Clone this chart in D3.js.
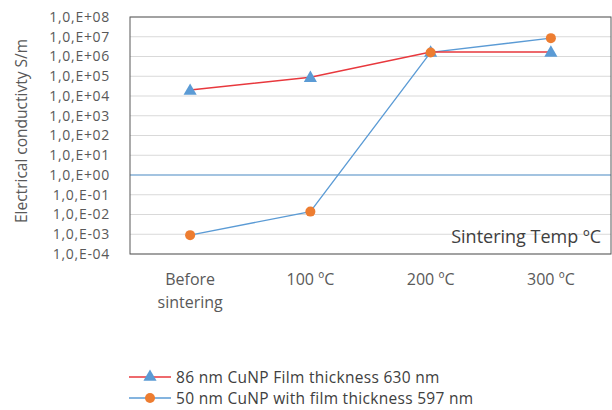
<!DOCTYPE html>
<html>
<head>
<script src="https://cdnjs.cloudflare.com/ajax/libs/d3/7.8.5/d3.min.js"></script>
<style>
  body { margin: 0; background: #fff; }
  text { font-family: "Open Sans", "Liberation Sans", sans-serif; fill: #595959; }
</style>
</head>
<body>
<svg width="612" height="410"></svg>
<script>
// chart data
var categories = ["Before\nsintering", "100 ºC", "200 ºC", "300 ºC"];
var series86 = [2.0e4, 9.0e4, 1.7e6, 1.7e6];
var series50 = [9.0e-4, 1.4e-2, 1.6e6, 8.5e6];
var yTicks = [1e-4, 1e-3, 1e-2, 1e-1, 1e0, 1e1, 1e2, 1e3, 1e4, 1e5, 1e6, 1e7, 1e8];
var legendLabels = ["86 nm CuNP Film thickness 630 nm", "50 nm CuNP with film thickness 597 nm"];

var svg = d3.select("svg");
var plotLeft = 130, plotRight = 611, plotTop = 17, plotBottom = 254;

var x = d3.scaleBand().domain(categories).range([plotLeft, plotRight]);
var y = d3.scaleLog().domain([1e-4, 1e8]).range([plotBottom, plotTop]);

function fmt(v) {
    var e = Math.round(Math.log10(v));
    var s = Math.abs(e) < 10 ? "0" + Math.abs(e) : "" + Math.abs(e);
    return "1,0,E" + (e < 0 ? "-" : "+") + s;
}

// gridlines
svg.append("g")
    .selectAll("line")
    .data(yTicks)
    .enter()
    .append("line")
    .attr("x1", plotLeft).attr("x2", plotRight)
    .attr("y1", function(d) { return y(d); })
    .attr("y2", function(d) { return y(d); })
    .attr("stroke", "#d9d9d9")
    .attr("stroke-width", 1);

// horizontal axis crossing at 1
svg.append("line")
    .attr("x1", plotLeft).attr("x2", plotRight)
    .attr("y1", y(1)).attr("y2", y(1))
    .attr("stroke", "#5b9bd5").attr("stroke-width", 1);

// plot frame
svg.append("rect")
    .attr("x", plotLeft).attr("y", plotTop)
    .attr("width", plotRight - plotLeft).attr("height", plotBottom - plotTop)
    .attr("fill", "none").attr("stroke", "#595959").attr("stroke-width", 1);

// y axis labels
var yAxis = svg.append("g")
    .attr("transform", "translate(" + (plotLeft - 20) + ",0)")
    .call(d3.axisLeft(y).tickValues(yTicks).tickFormat(fmt).tickSize(0));
yAxis.select(".domain").remove();
yAxis.selectAll("text").attr("x", 0).attr("font-size", 14).style("fill", "#595959")
    .attr("font-family", "Open Sans").attr("letter-spacing", 0.7);

// x axis labels
var xl = svg.append("g")
    .selectAll("text")
    .data(categories)
    .enter()
    .append("text")
    .attr("text-anchor", "middle")
    .attr("font-size", 16)
    .attr("x", function(d) { return x(d) + x.bandwidth() / 2; })
    .attr("y", 285);
xl.selectAll("tspan")
    .data(function(d) { return d.split("\n"); })
    .enter()
    .append("tspan")
    .attr("x", function() { var p = d3.select(this.parentNode).datum(); return x(p) + x.bandwidth() / 2; })
    .attr("dy", function(d, i) { return i ? 23 : 0; })
    .text(function(d) { return d; });

// y title
svg.append("text")
    .attr("transform", "translate(27,131) rotate(-90)")
    .attr("text-anchor", "middle")
    .attr("font-size", 15.5)
    .text("Electrical conductivty S/m");

// x title inside the plot
svg.append("text")
    .attr("x", 601).attr("y", 243)
    .attr("text-anchor", "end")
    .attr("font-size", 18)
    .style("fill", "#404040")
    .text("Sintering Temp ºC");

var cx = function(d, i) { return x(categories[i]) + x.bandwidth() / 2; };
var line = d3.line().x(function(d, i) { return cx(d, i); }).y(function(d) { return y(d); });
var tri = d3.symbol().type(d3.symbolTriangle).size(75);

// 50 nm series
svg.append("path").datum(series50)
    .attr("d", line).attr("fill", "none").attr("stroke", "#5b9bd5").attr("stroke-width", 1.3);
// 86 nm series
svg.append("path").datum(series86)
    .attr("d", line).attr("fill", "none").attr("stroke", "#e8383d").attr("stroke-width", 1.5);

svg.append("g").selectAll("path")
    .data(series86)
    .enter()
    .append("path")
    .attr("d", tri)
    .attr("transform", function(d, i) { return "translate(" + cx(d, i) + "," + (y(d) + 1) + ")"; })
    .attr("fill", "#5b9bd5");

svg.append("g").selectAll("circle")
    .data(series50)
    .enter()
    .append("circle")
    .attr("cx", cx)
    .attr("cy", function(d) { return y(d); })
    .attr("r", 5)
    .attr("fill", "#ed7d31");

// legend
var legendColors = ["#e8383d", "#5b9bd5"];
var lg = svg.append("g").selectAll("g")
    .data(legendLabels)
    .enter()
    .append("g")
    .attr("transform", function(d, i) { return "translate(129," + (377 + i * 21) + ")"; });
lg.append("line")
    .attr("x1", 0).attr("x2", 42).attr("y1", 0).attr("y2", 0)
    .attr("stroke", function(d, i) { return legendColors[i]; }).attr("stroke-width", 1.5);
lg.filter(function(d, i) { return i === 0; }).append("path")
    .attr("d", tri).attr("transform", "translate(21,0)").attr("fill", "#5b9bd5");
lg.filter(function(d, i) { return i === 1; }).append("circle")
    .attr("cx", 21).attr("cy", 0).attr("r", 5).attr("fill", "#ed7d31");
lg.append("text")
    .attr("x", 47).attr("y", 6)
    .attr("font-size", 15.5)
    .attr("letter-spacing", 0.3)
    .style("fill", "#404040")
    .text(function(d) { return d; });
</script>
</body>
</html>
